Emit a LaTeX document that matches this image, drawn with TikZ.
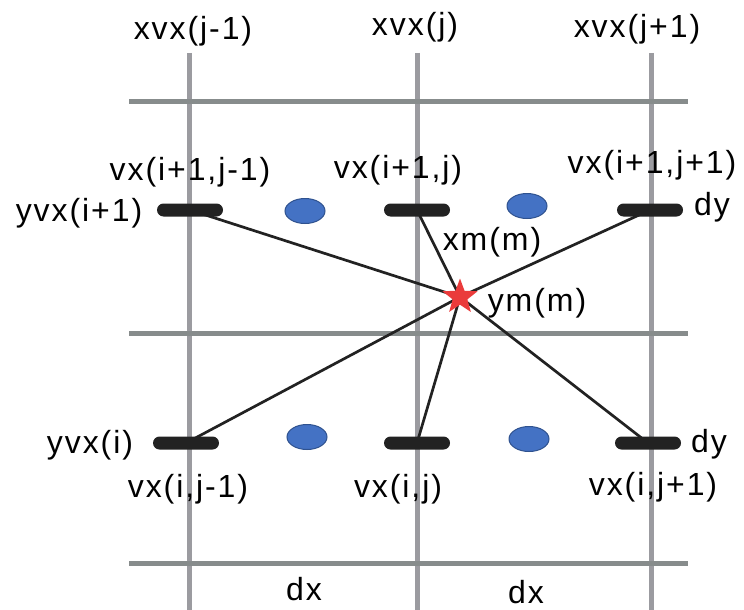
\documentclass[tikz,border=0pt]{standalone}
\usepackage{fontspec}
\newfontfamily\lblfont[LetterSpace=6]{Liberation Sans}
\usetikzlibrary{positioning,shapes.geometric,backgrounds}

\definecolor{vgrid}{RGB}{155,155,160}
\definecolor{hgrid}{RGB}{135,140,140}
\definecolor{barblk}{RGB}{34,34,34}
\definecolor{ptblue}{RGB}{68,114,196}
\definecolor{ptedge}{RGB}{47,82,143}
\definecolor{starred}{RGB}{234,59,59}

\begin{document}
\begin{tikzpicture}[
  x=1pt, y=-1pt,
  every node/.style={font=\lblfont\fontsize{32}{38}\selectfont},
  lbl/.style={anchor=base, inner sep=0pt},
  vline/.style={draw=vgrid, line width=5pt},
  hline/.style={draw=hgrid, line width=5pt},
  vbar/.style={draw=none, fill=barblk, rectangle, rounded corners=6.5pt,
               minimum width=66pt, minimum height=13pt, inner sep=0pt},
  cpoint/.style={ellipse, draw=ptedge, line width=1pt, fill=ptblue,
                 minimum width=40pt, minimum height=25pt, inner sep=0pt},
  link/.style={draw=barblk, line width=2.7pt},
]
\useasboundingbox (0,0) rectangle (744,610);

% velocity points (bars) and cell centres
\node[vbar] (v11) at (190,210) {};
\node[vbar] (v12) at (417,210) {};
\node[vbar] (v13) at (650,210) {};
\node[vbar] (v01) at (186,443) {};
\node[vbar] (v02) at (417,443) {};
\node[vbar] (v03) at (648,443) {};

\node[cpoint] (c11) at (305,211) {};
\node[cpoint] (c12) at (527,206) {};
\node[cpoint] (c01) at (307,437) {};
\node[cpoint] (c02) at (529,439) {};

% marker
\node[star, star points=5, star point ratio=2.4, fill=starred, draw=none,
      minimum size=37pt, inner sep=0pt] (m) at (460,297) {};

% labels
\node[lbl] (xj0) at (193,40) {xvx(j-1)};
\node[lbl] (xj1) at (415,36) {xvx(j)};
\node[lbl] (xj2) at (637,38) {xvx(j+1)};
\node[lbl] (l11) at (190,180) {vx(i+1,j-1)};
\node[lbl] (l12) at (398,178) {vx(i+1,j)};
\node[lbl] (l13) at (652,173) {vx(i+1,j+1)};
\node[lbl] (yi1) at (79,221) {yvx(i+1)};
\node[lbl] (dy1) at (712,215) {dy};
\node[lbl] (xm) at (492,250) {xm(m)};
\node[lbl] (ym) at (537,311) {ym(m)};
\node[lbl] (yi0) at (90,453) {yvx(i)};
\node[lbl] (dy0) at (709,452) {dy};
\node[lbl] (l01) at (188,497) {vx(i,j-1)};
\node[lbl] (l02) at (398,497) {vx(i,j)};
\node[lbl] (l03) at (653,495) {vx(i,j+1)};
\node[lbl] (dx1) at (304,600) {dx};
\node[lbl] (dx2) at (526,603) {dx};

\begin{scope}[on background layer]
  % grid
  \foreach \gx in {189,417,651}
    \draw[vline] (\gx,53) -- (\gx,610);
  \foreach \gy in {101,333,563}
    \draw[hline] (129,\gy) -- (688,\gy);

  % interpolation links
  \foreach \v in {v11,v12,v13,v01,v02,v03}
    \draw[link] (m.center) -- (\v.center);
\end{scope}
\end{tikzpicture}
\end{document}
